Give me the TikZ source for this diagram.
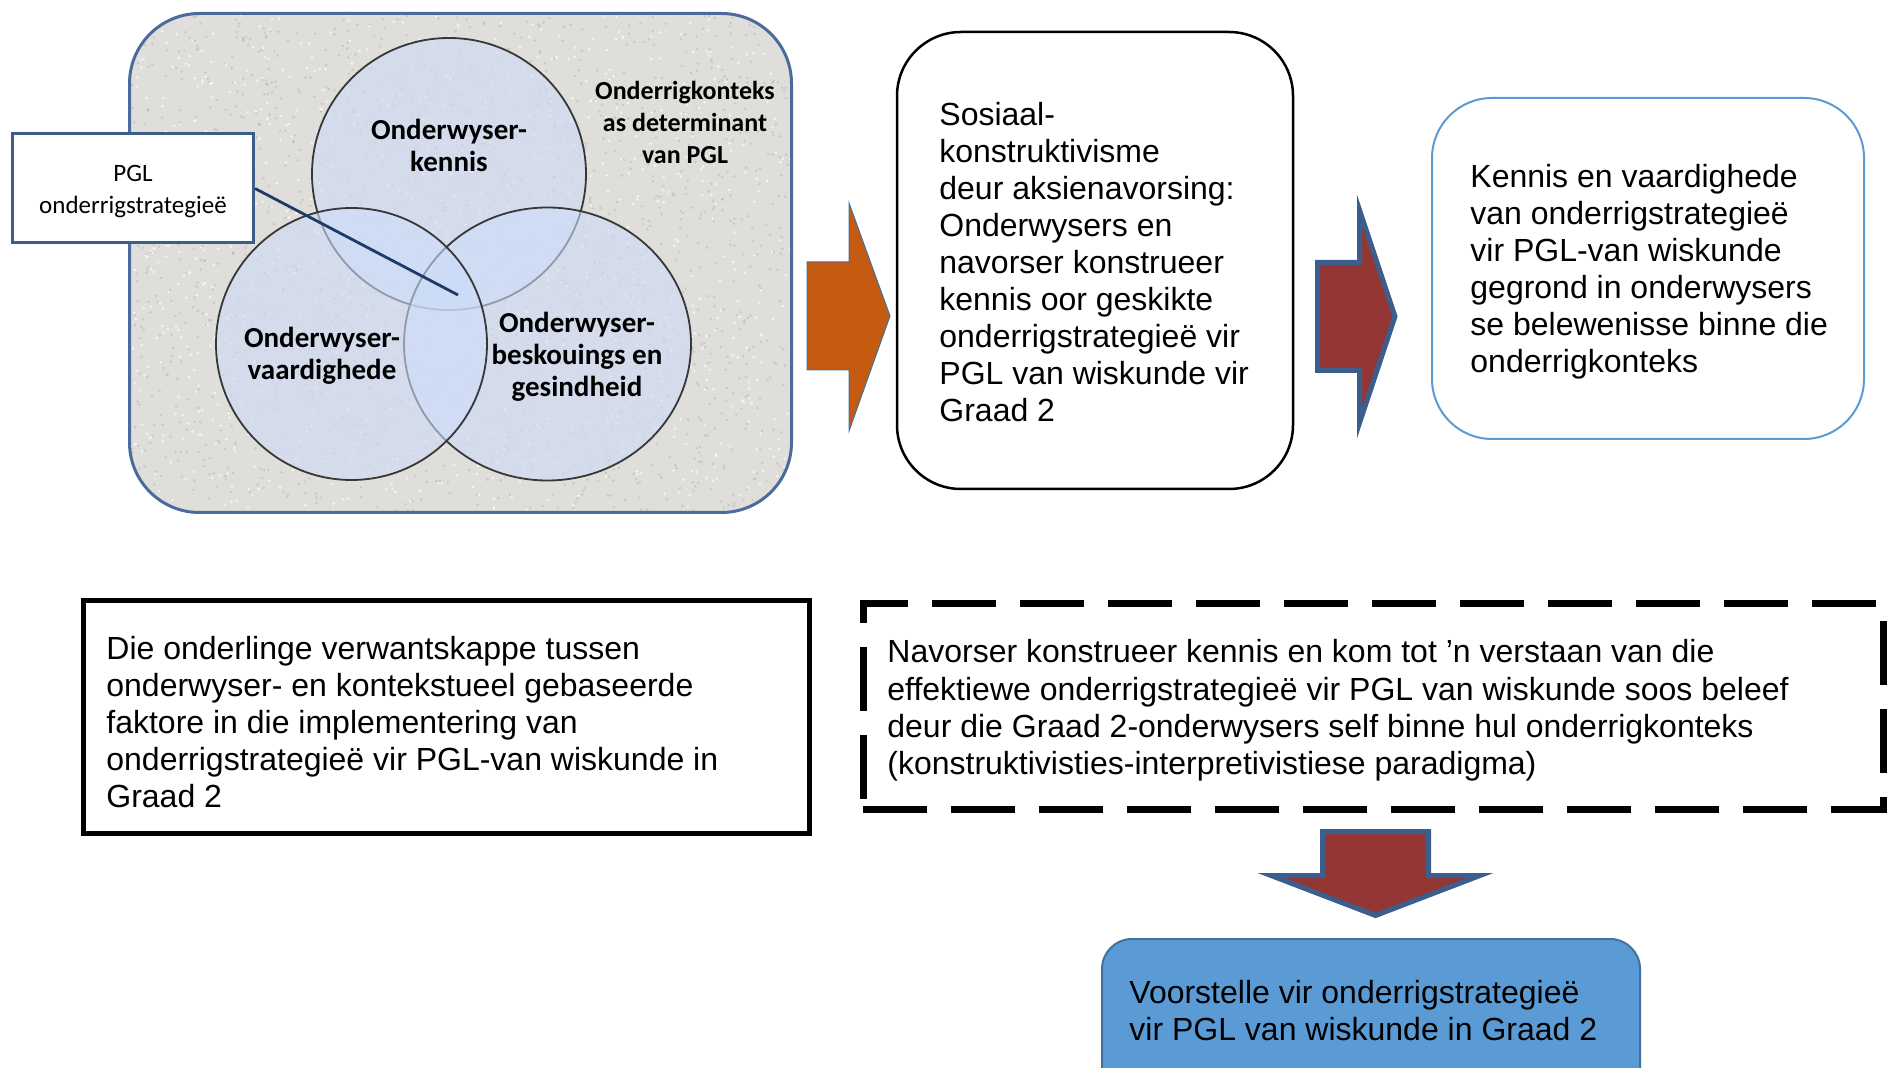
\documentclass[tikz,border=0pt]{standalone}
\usepackage{fontspec}
\setmainfont{Liberation Sans}
\newfontfamily\calfont{Carlito}
\usetikzlibrary{shapes.geometric}
\definecolor{orangeA}{HTML}{C55A11}
\definecolor{redA}{HTML}{943634}
\definecolor{navyA}{HTML}{3B5E8C}
\definecolor{blueA}{HTML}{5B9BD5}
\definecolor{blueB}{HTML}{41719C}
\definecolor{frameA}{HTML}{4A6B9B}
\definecolor{bgA}{HTML}{E0DEDA}
\definecolor{vennA}{HTML}{CCDCF8}
\definecolor{lineA}{HTML}{1F3A66}
\newcommand\ml[1]{\begin{tabular}[t]{@{}l@{}}#1\end{tabular}}
\newcommand\mc[1]{\begin{tabular}[t]{@{}c@{}}#1\end{tabular}}
\begin{document}
\begin{tikzpicture}[x=0.5pt,y=-0.5pt,
  txt/.style={anchor=base west,inner sep=0pt,font=\fontsize{16}{18.5}\selectfont},
  boldtxt/.style={anchor=base,inner sep=0pt,font=\calfont\bfseries\fontsize{14.5}{16}\selectfont},
  ctxtxt/.style={anchor=base,inner sep=0pt,font=\calfont\bfseries\fontsize{13}{16}\selectfont},
  pgltxt/.style={anchor=base,inner sep=0pt,font=\calfont\fontsize{12.5}{16}\selectfont},
  venn/.style={ellipse,inner sep=0pt,fill=vennA,fill opacity=0.6,draw={rgb,255:red,55;green,55;blue,55},draw opacity=1,line width=0.9pt},
  blockarrow/.style={fill=redA,draw=navyA,line width=2.5pt,line join=miter},
  boxA/.style={rectangle,inner sep=0pt,fill=white},
]
\useasboundingbox (0,0) rectangle (1889,1068);
\clip (0,0) rectangle (1889,1068);

% background panel of the Venn picture
\node[boxA,fill=bgA,rounded corners=35pt,minimum width=331.5pt,minimum height=249.5pt] (venn) at (460.5,263) {};
\begin{scope}
  \clip[rounded corners=35pt] (131,15) rectangle (790,511);
  \pgfmathsetseed{11}
  \foreach \i in {1,...,1600}{
    \pgfmathsetmacro\xx{131+659*rnd}
    \pgfmathsetmacro\yy{15+496*rnd}
    \fill[gray!75,opacity=0.35] (\xx,\yy) circle (1.4);
  }
  \foreach \i in {1,...,1000}{
    \pgfmathsetmacro\xx{131+659*rnd}
    \pgfmathsetmacro\yy{15+496*rnd}
    \fill[white,opacity=0.7] (\xx,\yy) circle (1.4);
  }
\end{scope}
\draw[frameA,line width=1.5pt,rounded corners=35pt] (129.5,13.5) rectangle (791.5,512.5);

% Venn ellipses
\node[venn,minimum width=137pt,minimum height=136pt] (e1) at (449,174) {};
\node[venn,minimum width=143.5pt,minimum height=136.5pt] (e3) at (547.5,344) {};
\node[venn,minimum width=135.5pt,minimum height=136pt] (e2) at (351.5,344) {};

\node[boldtxt] (k1) at (449,140) {\mc{Onderwyser-\\kennis}};
\node[boldtxt] (k2) at (322,348) {\mc{Onderwyser-\\vaardighede}};
\node[boldtxt] (k3) at (577,333) {\mc{Onderwyser-\\beskouings en\\gesindheid}};
\node[ctxtxt] (k4) at (685,100) {\mc{Onderrigkonteks\\as determinant\\van PGL}};

% PGL box and pointer
\node[boxA,draw=navyA,line width=1.5pt,minimum width=120.5pt,minimum height=54.5pt] (pgl) at (133,188.5) {};
\node[pgltxt] (pgltext) at (133,182) {\mc{PGL\\onderrigstrategieë}};
\coordinate (vc) at (458,295);
\draw[lineA,line width=1.4pt] (pgl.east) -- (vc);

% orange arrow
\filldraw[fill=orangeA,draw=blueB,line width=0.5pt,line join=miter]
  (807,262) -- (849,262) -- (849,203) -- (890,316) -- (849,431) -- (849,370) -- (807,370) -- cycle;

% middle box
\node[boxA,draw=black,line width=1.25pt,rounded corners=32pt,minimum width=198pt,minimum height=228.5pt] (mid) at (1095,260.5) {};
\node[txt] (midtext) at (939,126) {\ml{Sosiaal-\\konstruktivisme\\deur aksienavorsing:\\Onderwysers en\\navorser konstrueer\\kennis oor geskikte\\onderrigstrategieë vir\\PGL van wiskunde vir\\Graad 2}};

% red arrow
\filldraw[blockarrow]
  (1317.5,262.5) -- (1359.5,262.5) -- (1359.5,210) -- (1395,316.5) -- (1359.5,423) -- (1359.5,370.5) -- (1317.5,370.5) -- cycle;

% right box
\node[boxA,draw=blueA,line width=1pt,rounded corners=30pt,minimum width=216pt,minimum height=170.5pt] (right) at (1648,268.5) {};
\node[txt] (righttext) at (1470,188) {\ml{Kennis en vaardighede\\van onderrigstrategieë\\vir PGL-van wiskunde\\gegrond in onderwysers\\se belewenisse binne die\\onderrigkonteks}};

% bottom left box
\node[boxA,draw=black,line width=2.5pt,minimum width=363pt,minimum height=116pt] (bl) at (446,717) {};
\node[txt] (bltext) at (106,660) {\ml{Die onderlinge verwantskappe tussen\\onderwyser- en kontekstueel gebaseerde\\faktore in die implementering van\\onderrigstrategieë vir PGL-van wiskunde in\\Graad 2}};

% dashed box
\node[boxA,draw=black,line width=3.5pt,dash pattern=on 32pt off 12pt,minimum width=510pt,minimum height=102.5pt] (dash) at (1373,706.5) {};
\node[txt] (dashtext) at (887,663) {\ml{Navorser konstrueer kennis en kom tot ’n verstaan van die\\effektiewe onderrigstrategieë vir PGL van wiskunde soos beleef\\deur die Graad 2-onderwysers self binne hul onderrigkonteks\\(konstruktivisties-interpretivistiese paradigma)}};

% down arrow
\filldraw[blockarrow]
  (1322.5,831.5) -- (1428.5,831.5) -- (1428.5,875.5) -- (1480,875.5) -- (1375.5,915.5) -- (1271,875.5) -- (1322.5,875.5) -- cycle;

% blue box
\node[boxA,fill=blueA,draw=blueB,line width=1pt,rounded corners=15pt,minimum width=269pt,minimum height=80.5pt] (blue) at (1371,1019.5) {};
\node[txt] (bluetext) at (1129,1003) {\ml{Voorstelle vir onderrigstrategieë\\vir PGL van wiskunde in Graad 2}};
\end{tikzpicture}
\end{document}
